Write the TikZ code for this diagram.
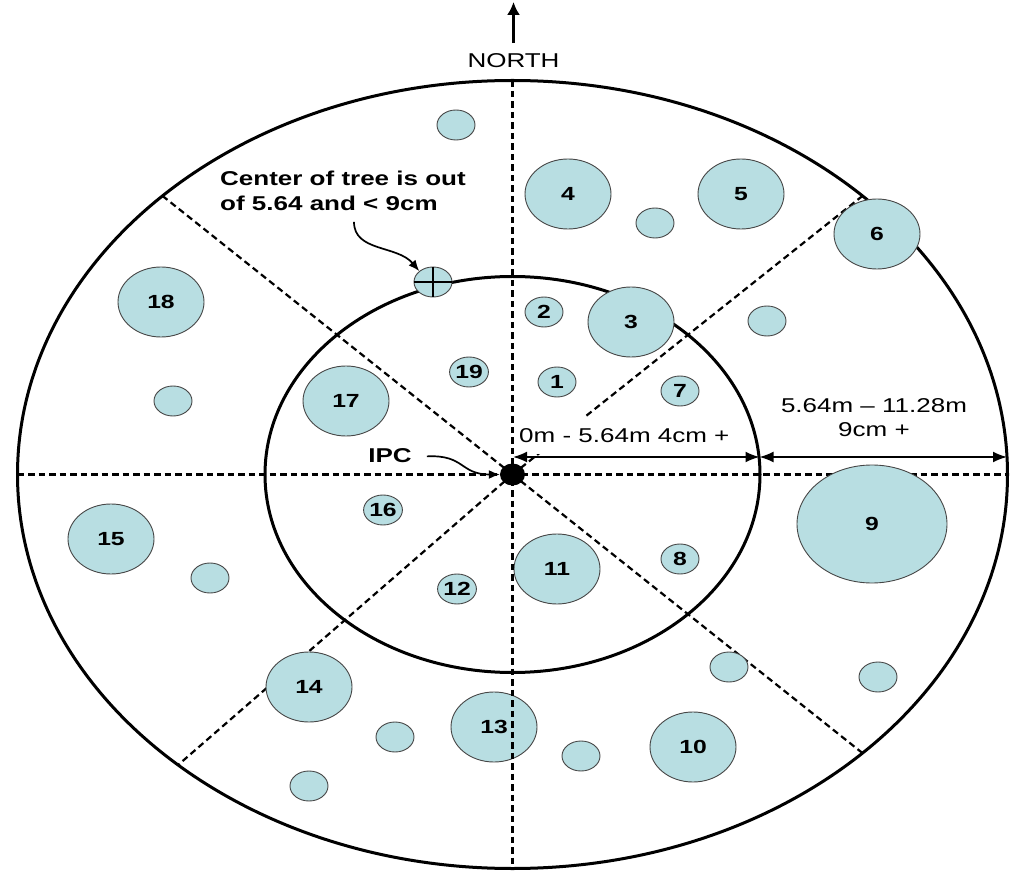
\documentclass[tikz,border=0pt]{standalone}
\usepackage{fontspec}
\setmainfont[FakeStretch=1.3]{Liberation Sans}
\usetikzlibrary{shapes.geometric,arrows.meta,calc}

\definecolor{treefill}{RGB}{184,222,226}
\definecolor{treeline}{RGB}{70,70,70}

\tikzset{
    tree/.style={ellipse,draw=treeline,fill=treefill,line width=0.9pt,inner sep=0pt,
        font=\fontsize{19}{20}\selectfont\bfseries},
    smalltree/.style={tree,minimum width=38pt,minimum height=30pt},
    bigtree/.style={tree,minimum width=86pt,minimum height=70pt},
    plotring/.style={line width=3pt},
    sectorline/.style={line width=2.2pt,dash pattern=on 6.5pt off 4pt},
    dimarrow/.style={line width=1.8pt,{Latex[length=14pt,width=11pt]}-{Latex[length=14pt,width=11pt]}},
    callout/.style={line width=1.7pt,-{Latex[length=11pt,width=9pt]}},
    notetext/.style={inner sep=0pt,font=\fontsize{20}{24}\selectfont},
}

\begin{document}
\begin{tikzpicture}[x=1pt,y=-1pt]
    \useasboundingbox (0,0) rectangle (1015,874);
    \coordinate (c) at (512.5,474.5);

    % plot sectors and rings
    \draw[sectorline] ($(c)+(-495,0)$) -- ($(c)+(495,0)$);
    \foreach \a in {225,315,45,132.5}
        \draw[sectorline] (c) -- ($(c)+({495*cos(\a)},{394*sin(\a)})$);
    \draw[plotring] (c) ellipse [x radius=495, y radius=394];
    \draw[plotring] (c) ellipse [x radius=247.5, y radius=198];

    \node[notetext,anchor=west,fill=white,inner xsep=2pt,inner ysep=11pt] (innerlab) at (517,435.5) {0m - 5.64m 4cm +};
    \node[notetext,align=center] (outerlab) at (874,418) {5.64m – 11.28m\\9cm +};

    \coordinate (d0) at (513,457);
    \coordinate (d1) at (759.5,457);
    \coordinate (d2) at (1007,457);
    \draw[dimarrow] (d0) -- (d1);
    \draw[dimarrow] (d1) -- (d2);

    % trees
    \node[smalltree] (s1) at (456,125) {};
    \node[bigtree] (t4) at (568,194) {4};
    \node[smalltree] (s2) at (655,223) {};
    \node[bigtree] (t5) at (741,194) {5};
    \node[bigtree] (t6) at (877,234) {6};
    \node[smalltree] (cross) at (433,282) {};
    \node[bigtree] (t18) at (161,302) {18};
    \node[smalltree] (t2) at (544,312) {2};
    \node[bigtree] (t3) at (631,322) {3};
    \node[smalltree] (s3) at (767,321) {};
    \node[smalltree] (t19) at (469,372) {19};
    \node[smalltree] (t1) at (557,382) {1};
    \node[smalltree] (t7) at (680,391) {7};
    \node[smalltree] (s4) at (173,401) {};
    \node[bigtree] (t17) at (346,401) {17};
    \node[smalltree] (t16) at (383,510) {16};
    \node[bigtree] (t15) at (111,539) {15};
    \node[tree,minimum width=150pt,minimum height=118pt] (t9) at (872,524) {9};
    \node[smalltree] (t8) at (680,559) {8};
    \node[bigtree] (t11) at (557,569) {11};
    \node[smalltree] (s5) at (210,578) {};
    \node[smalltree] (t12) at (457,589) {12};
    \node[smalltree] (s6) at (729,667) {};
    \node[smalltree] (s7) at (878,677) {};
    \node[bigtree] (t14) at (309,687) {14};
    \node[smalltree] (s8) at (395,737) {};
    \node[bigtree] (t13) at (494,727) {13};
    \node[smalltree] (s9) at (581,756) {};
    \node[bigtree] (t10) at (693,747) {10};
    \node[smalltree] (s10) at (309,786) {};
    \draw[line width=1.2pt] (cross.north) -- (cross.south) (cross.west) -- (cross.east);

    \draw[sectorline] ($(c)+(0,-394)$) -- ($(c)+(0,394)$);
    \node[ellipse,fill=black,minimum width=25pt,minimum height=22pt,inner sep=0pt] (ipc) at (c) {};

    % labels
    \node[notetext] (north) at (513.5,60.5) {NORTH};
    \coordinate (up) at (513.5,2);
    \draw[line width=2.2pt,-{Latex[length=13pt,width=13pt]}] ([yshift=10pt]north.north) -- (up);

    \node[notetext,font=\fontsize{20}{24.7}\selectfont\bfseries,align=left,anchor=west] (treenote) at (220,191)
        {Center of tree is out\\of 5.64 and < 9cm};
    \draw[callout] ([xshift=11pt,yshift=-11pt]treenote.south) .. controls +(0,30) and +(-22,-26) .. (cross.north west);

    \node[notetext,font=\fontsize{20}{24}\selectfont\bfseries] (ipclab) at (390,455.4) {IPC};
    \draw[callout] ([xshift=15pt,yshift=-1pt]ipclab.east) .. controls +(38,-2) and +(-40,0) .. (ipc.west);
\end{tikzpicture}
\end{document}
